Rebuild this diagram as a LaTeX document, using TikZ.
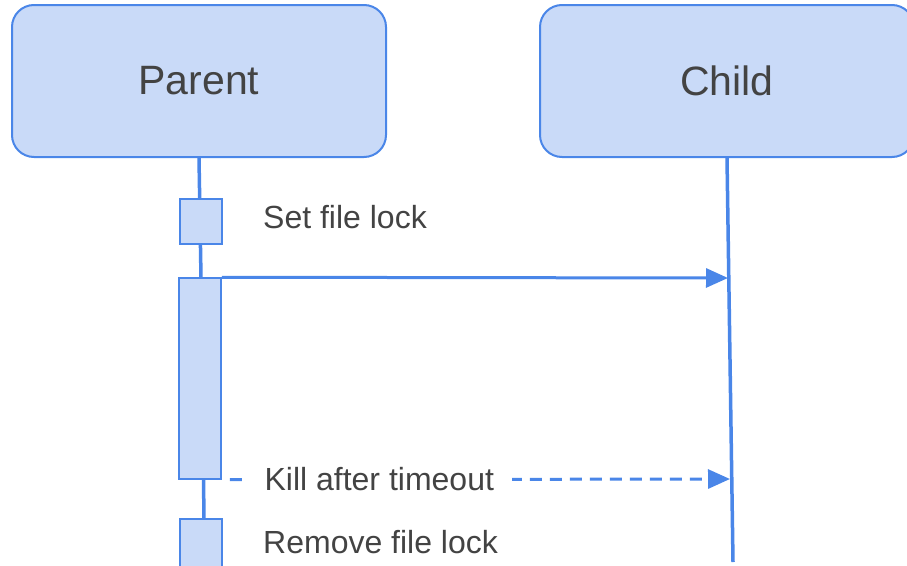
\documentclass[tikz,border=0pt]{standalone}
\usepackage{fontspec}
\setmainfont{Liberation Sans}
\usetikzlibrary{arrows.meta}
\definecolor{lineblue}{HTML}{4A86E8}
\definecolor{fillblue}{HTML}{C9DAF8}
\definecolor{textgray}{HTML}{434343}

\begin{document}
\begin{tikzpicture}[x=1pt,y=-1pt,
  actor/.style={draw=lineblue,fill=fillblue,line width=2pt,rounded corners=22pt,text=textgray,font=\fontsize{41}{48}\selectfont,inner sep=0pt,minimum width=374pt,minimum height=152pt},
  act/.style={draw=lineblue,fill=fillblue,line width=1.5pt,minimum width=42pt,inner sep=0pt},
  life/.style={lineblue,line width=3.5pt},
  msg/.style={lineblue,line width=3pt,-{Triangle[length=22pt,width=19pt]}},
  lbl/.style={text=textgray,font=\fontsize{32}{38}\selectfont,inner sep=0pt}]
\useasboundingbox (0,0) rectangle (907,565);
\node[actor] (p) at (199,81) {Parent};
\node[actor] (c) at (727,81) {Child};
\coordinate (pmid) at (201,278);
\coordinate (pend) at (204,519);
\coordinate (cend) at (733,562);
\coordinate (k1) at (728,278);
\coordinate (k2) at (730,479);
\draw[life] (p.south) -- (pmid) -- (pend);
\draw[life] (c.south) -- (cend);
\node[act,minimum height=45pt] (a1) at (201,221.5) {};
\node[act,minimum height=201pt] (a2) at (200,378.5) {};
\node[act,minimum height=52pt] (a3) at (201,545) {};
\node[lbl,anchor=west] (set) at (263,217) {Set file lock};
\node[lbl,anchor=west] (rem) at (263,542) {Remove file lock};
\draw[msg] (a2.north east) -- (k1);
\draw[msg,dash pattern=on 12pt off 8pt,dash phase=12pt] (a2.south east) -- (k2)
  node[lbl,pos=0.31,fill=white,inner xsep=18pt] (kill) {Kill after timeout};
\end{tikzpicture}
\end{document}
